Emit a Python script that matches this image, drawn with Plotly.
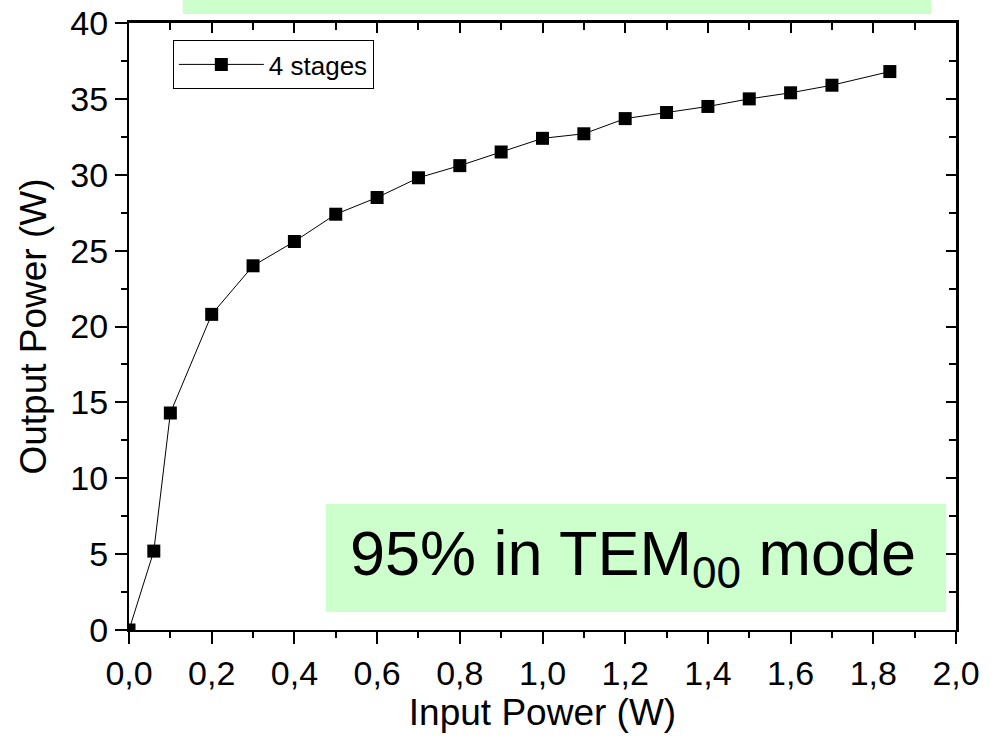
import plotly.graph_objects as go

input_power = [0.0, 0.06, 0.1, 0.2, 0.3, 0.4, 0.5, 0.6, 0.7, 0.8, 0.9, 1.0,
               1.1, 1.2, 1.3, 1.4, 1.5, 1.6, 1.7, 1.84]
output_power = [0.0, 5.2, 14.3, 20.8, 24.0, 25.6, 27.4, 28.5, 29.8, 30.6, 31.5, 32.4,
                32.7, 33.7, 34.1, 34.5, 35.0, 35.4, 35.9, 36.8]
series_name = "4 stages"
x_title = "Input Power (W)"
y_title = "Output Power (W)"
note_text = "95% in TEM<sub>00</sub> mode"

FONT = "Arial, Liberation Sans, sans-serif"

fig = go.Figure()
fig.add_trace(go.Scatter(
    x=input_power, y=output_power, mode="lines+markers", name=series_name,
    line=dict(color="black", width=1),
    marker=dict(symbol="square", size=13, color="black"),
))
# invisible trace to activate mirrored top/right axes
fig.add_trace(go.Scatter(
    x=input_power, y=output_power, mode="markers", xaxis="x2", yaxis="y2",
    marker=dict(opacity=0), showlegend=False, hoverinfo="skip",
))

common = dict(showgrid=False, zeroline=False, linecolor="black", linewidth=2,
              tickcolor="black", tickwidth=2, ticklen=12, automargin=False)

fig.update_layout(
    width=998, height=747,
    margin=dict(l=129, r=42, t=23, b=117),
    paper_bgcolor="white", plot_bgcolor="white",
    separators=",.",
    font=dict(family=FONT, color="black"),
    xaxis=dict(range=[0, 2.0], dtick=0.2, tick0=0, tickformat=".1f", ticks="outside",
               minor=dict(dtick=0.1, ticks="outside", ticklen=6, tickwidth=2, tickcolor="black"),
               tickfont=dict(size=34), title=dict(text=x_title, font=dict(size=37), standoff=5),
               **common),
    yaxis=dict(range=[0, 40], dtick=5, tick0=0, ticks="outside",
               minor=dict(dtick=2.5, ticks="outside", ticklen=6, tickwidth=2, tickcolor="black"),
               tickfont=dict(size=34), title=dict(text=y_title, font=dict(size=37), standoff=12),
               **common),
    xaxis2=dict(range=[0, 2.0], overlaying="x", side="top", dtick=0.2, tick0=0,
                ticks="inside", showticklabels=False,
                minor=dict(dtick=0.1, ticks="inside", ticklen=7, tickwidth=2, tickcolor="black"),
                **{**common, "linewidth": 3, "ticklen": 10}),
    yaxis2=dict(range=[0, 40], overlaying="y", side="right", dtick=5, tick0=0,
                ticks="inside", showticklabels=False,
                minor=dict(dtick=2.5, ticks="inside", ticklen=7, tickwidth=2, tickcolor="black"),
                **{**common, "linewidth": 3, "ticklen": 10}),
    legend=dict(x=0.053, y=0.972, xanchor="left", yanchor="top",
                bordercolor="black", borderwidth=1, bgcolor="white",
                font=dict(size=26), itemwidth=85, tracegroupgap=0),
    showlegend=True,
)

# green header strip (top, mostly cut off)
fig.add_shape(type="rect", xref="paper", yref="paper",
              x0=0.065, x1=0.970, y0=1.0148, y1=1.05,
              fillcolor="#ccffcc", line=dict(width=0), layer="above")
# green note box
fig.add_shape(type="rect", xref="paper", yref="paper",
              x0=0.238, x1=0.988, y0=0.0297, y1=0.2076,
              fillcolor="#ccffcc", line=dict(width=0), layer="below")
fig.add_annotation(xref="paper", yref="paper", x=0.61, y=0.12,
                   text=note_text, showarrow=False, xanchor="center", yanchor="middle",
                   font=dict(size=63, color="black", family=FONT))

fig.write_html("out.html")
